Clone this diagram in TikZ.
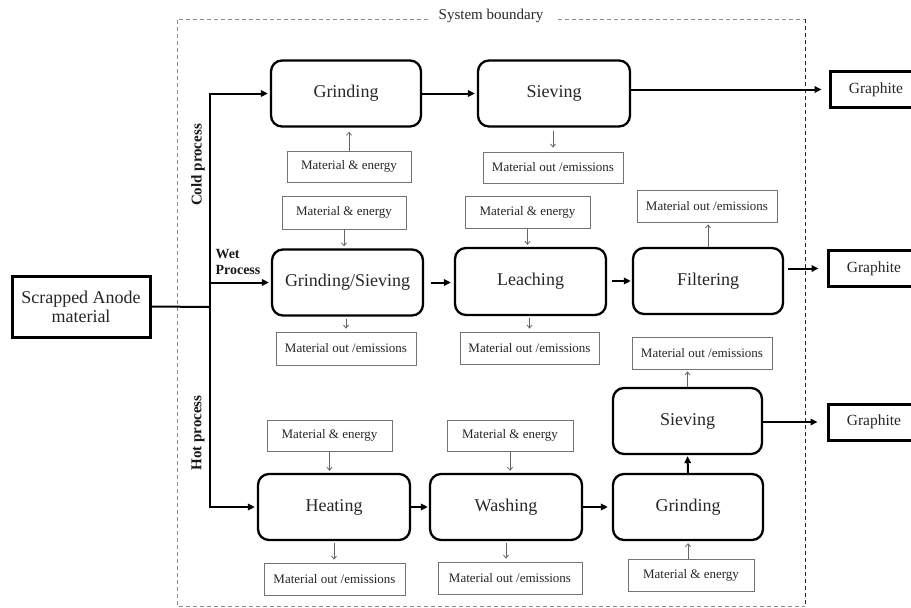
\documentclass[tikz,border=0pt]{standalone}
\usepackage{fontspec}
\setmainfont{Liberation Serif}
\usetikzlibrary{arrows.meta,calc}

\begin{document}
\begin{tikzpicture}[x=1pt,y=-1pt,
  proc/.style={draw=black, line width=2.3pt, rounded corners=11pt, inner sep=0pt,
    minimum width=150pt, minimum height=66pt, text=black!85,
    font=\fontsize{18}{20}\selectfont},
  aux/.style={draw=black!55, line width=0.8pt, inner sep=0pt,
    minimum width=124pt, minimum height=31pt, text=black!85,
    font=\fontsize{13}{15}\selectfont},
  outbox/.style={aux, minimum width=140pt},
  product/.style={draw=black, line width=3pt, inner sep=0pt,
    minimum width=92pt, minimum height=36pt, text=black!85,
    font=\fontsize{15.5}{17}\selectfont},
  flow/.style={line width=2pt, -{Triangle[length=7pt,width=6.5pt]}},
  feed/.style={draw=black!60, line width=0.8pt,
    -{Straight Barb[length=3pt,width=5pt]}},
  tag/.style={font=\bfseries\fontsize{15}{16}\selectfont, text=black!90},
  boundary/.style={line width=0.8pt, dash pattern=on 4pt off 3pt}
]
\useasboundingbox (0,0) rectangle (911,608);

% system boundary
\node[font=\fontsize{15}{17}\selectfont, text=black!85] (sb) at (491,16) {System boundary};
\draw[boundary, draw=black!45] (428,19) -- (177,19) -- (177,606) -- (805,606);
\draw[boundary, draw=black!45] (558,19) -- (805,19);
\draw[boundary, draw=black!85] (805,19) -- (805,606);

% feed material
\node[product, minimum width=138pt, minimum height=61pt, align=center,
  font=\fontsize{18}{19}\selectfont] (src) at (81,306.5) {Scrapped Anode\\material};
\coordinate (j) at (210,307);

% cold process
\node[proc] (g1) at (346,93.5) {Grinding};
\node[proc, minimum width=152pt] (s1) at (554,93.5) {Sieving};
\node[aux] (me1) at (349,166.5) {Material \& energy};
\node[outbox] (mo1) at (553,167.5) {Material out /emissions};
\node[product] (gr1) at (876,89.5) {Graphite};

% wet process
\node[proc, minimum width=151pt] (gs) at (347.5,282.5) {Grinding/Sieving};
\node[proc, minimum width=151pt, minimum height=67pt] (le) at (530.5,281.5) {Leaching};
\node[proc] (fi) at (708,281) {Filtering};
\node[aux, minimum height=33pt] (me2) at (344,212.5) {Material \& energy};
\node[outbox, minimum height=33pt] (mo2) at (346,348.5) {Material out /emissions};
\node[aux, minimum width=125pt, minimum height=32pt] (me3) at (527.5,212) {Material \& energy};
\node[outbox, minimum width=139pt, minimum height=32pt] (mo3) at (529.5,348) {Material out /emissions};
\node[outbox, minimum height=32pt] (mo4) at (707,206) {Material out /emissions};
\node[product] (gr2) at (874,268.5) {Graphite};

% hot process
\node[proc, minimum width=152pt] (he) at (334,507) {Heating};
\node[proc, minimum width=152pt] (wa) at (506,507) {Washing};
\node[proc] (g3) at (688,507) {Grinding};
\node[proc, minimum width=149pt] (s3) at (687.5,421) {Sieving};
\node[aux, minimum width=125pt] (me4) at (329.5,435.5) {Material \& energy};
\node[aux, minimum width=126pt] (me5) at (510,435.5) {Material \& energy};
\node[outbox, minimum width=141pt, minimum height=32pt] (mo6) at (334.5,579) {Material out /emissions};
\node[outbox, minimum width=144pt, minimum height=32pt] (mo7) at (510,578) {Material out /emissions};
\node[aux, minimum width=126pt, minimum height=32pt] (me6) at (691,575) {Material \& energy};
\node[outbox, minimum height=32pt] (mo5) at (702,353) {Material out /emissions};
\node[product] (gr3) at (874,422) {Graphite};

% branch labels
\node[tag, rotate=90] (cold) at (198,165) {Cold process};
\node[tag, rotate=90] (hot) at (198,433) {Hot process};
\node[tag, align=left, anchor=west, font=\bfseries\fontsize{14}{16.5}\selectfont] (wet) at (212,262) {Wet\\Process};

% main flow
\draw[line width=2pt] (src.east) -- (j);
\draw[flow, shorten >=2pt] (j) |- (g1.west);
\draw[flow, shorten >=2pt] (j |- gs.west) -- (gs.west);
\draw[flow, shorten >=2pt] (j) |- (he.west);
\draw[flow, shorten >=2pt] (g1.east) -- (s1.west);
\draw[flow, shorten >=7pt] (s1.east |- gr1.west) -- (gr1.west);
\draw[flow, shorten <=7pt, shorten >=3pt] (gs.east) -- (le.west |- gs.east);
\draw[flow, shorten <=5pt, shorten >=1pt] (le.east |- fi.west) -- (fi.west);
\draw[flow, shorten <=4pt, shorten >=8pt] (fi.east |- gr2.west) -- (gr2.west);
\draw[flow, shorten >=1pt] (he.east) -- (wa.west);
\draw[flow, shorten >=4pt] (wa.east) -- (g3.west);
\draw[flow, shorten >=1pt] (g3.north) -- (s3.south);
\draw[flow, shorten >=9pt] (s3.east |- gr3.west) -- (gr3.west);

% material and energy in, emissions out
\draw[feed, shorten >=4pt] (me1.north) -- (me1.north |- g1.south);
\draw[feed, shorten <=3pt, shorten >=4pt] (mo1.north |- s1.south) -- (mo1.north);
\draw[feed, shorten >=2pt] (me2.south) -- (me2.south |- gs.north);
\draw[feed, shorten <=2pt, shorten >=3pt] (mo2.north |- gs.south) -- (mo2.north);
\draw[feed, shorten >=2pt] (me3.south) -- (me3.south |- le.north);
\draw[feed, shorten <=2pt, shorten >=3pt] (mo3.north |- le.south) -- (mo3.north);
\draw[feed, shorten >=2pt] (fi.north) -- (fi.north |- mo4.south);
\draw[feed, shorten >=2pt] (s3.north) -- (s3.north |- mo5.south);
\draw[feed, shorten >=2pt] (me4.south) -- (me4.south |- he.north);
\draw[feed, shorten >=2pt] (me5.south) -- (me5.south |- wa.north);
\draw[feed, shorten <=2pt, shorten >=3pt] (he.south) -- (he.south |- mo6.north);
\draw[feed, shorten <=2pt, shorten >=3pt] (wa.south) -- (wa.south |- mo7.north);
\draw[feed, shorten >=2pt] (g3.south |- me6.north) -- (g3.south);
\end{tikzpicture}
\end{document}
